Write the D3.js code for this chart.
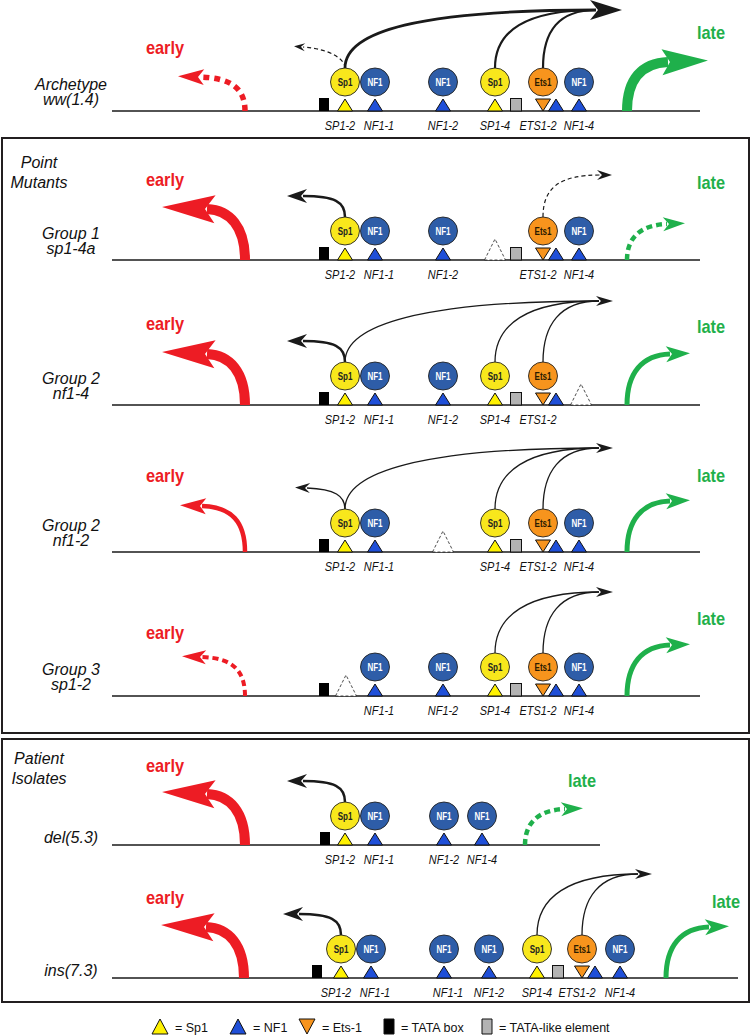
<!DOCTYPE html>
<html><head><meta charset="utf-8">
<script src="https://cdn.jsdelivr.net/npm/d3@7"></script>
<style>body{margin:0;background:#fff} svg{display:block}</style>
</head><body>
<svg id="c" width="751" height="1035"></svg>
<script>
// ---------------- DATA ----------------
const rowNames = [["Archetype","ww(1.4)"],["Group 1","sp1-4a"],["Group 2","nf1-4"],["Group 2","nf1-2"],["Group 3","sp1-2"],["del(5.3)"],["ins(7.3)"]];
const sectionNames = [["Point","Mutants"],["Patient","Isolates"]];
// [type, map position along promoter, site label, bound protein (1/0)]
// T = TATA box, L = TATA-like element, S = Sp1 site, N = NF1 site, E = Ets-1 site, X = mutated site
const archetypeSites = [["T",212],["S",233,"SP1-2",1],["N",263,"NF1-1",1],["N",331,"NF1-2",1],["S",383,"SP1-4",1],["L",404],["E",431,"ETS1-2",1],["N",444],["N",467,"NF1-4",1]];
const sp14aSites    = [["T",212],["S",233,"SP1-2",1],["N",263,"NF1-1",1],["N",331,"NF1-2",1],["X",383],["L",404],["E",431,"ETS1-2",1],["N",444],["N",467,"NF1-4",1]];
const nf14Sites     = [["T",212],["S",233,"SP1-2",1],["N",263,"NF1-1",1],["N",331,"NF1-2",1],["S",383,"SP1-4",1],["L",404],["E",431,"ETS1-2",1],["N",444],["X",469]];
const nf12Sites     = [["T",212],["S",233,"SP1-2",1],["N",263,"NF1-1",1],["X",331],["S",383,"SP1-4",1],["L",404],["E",431,"ETS1-2",1],["N",444],["N",467,"NF1-4",1]];
const sp12Sites     = [["T",212],["X",234],["N",263,"NF1-1",1],["N",331,"NF1-2",1],["S",383,"SP1-4",1],["L",404],["E",431,"ETS1-2",1],["N",444],["N",467,"NF1-4",1]];
const del53Sites    = [["T",213],["S",233,"SP1-2",1],["N",263,"NF1-1",1],["N",332,"NF1-2",1],["N",370,"NF1-4",1]];
const ins73Sites    = [["T",205],["S",229,"SP1-2",1],["N",259,"NF1-1",1],["N",332,"NF1-1",1],["N",377,"NF1-2",1],["S",425,"SP1-4",1],["L",446],["E",470,"ETS1-2",1],["N",483],["N",508,"NF1-4",1]];
const rowSites = [archetypeSites, sp14aSites, nf14Sites, nf12Sites, sp12Sites, del53Sites, ins73Sites];
const rowLength = [588,588,588,588,588,488,626];
// early / late promoter activity
const earlyStart = [133,133,133,133,133,133,132];
const earlyArrow = ["dashed","heavy","heavy","light","dashedLight","heavy","heavy"];
const lateStart  = [515,515,515,515,515,413,554];
const lateArrow  = ["heavy","dashedLight","medium","medium","medium","dashedLight","medium"];
// transcription-factor effects
const sp1EarlyLink   = ["dashed","medium","medium","light","none","medium","medium"];
const lateActivators = [["SP1-2","SP1-4","ETS1-2"],["ETS1-2"],["SP1-2","SP1-4","ETS1-2"],["SP1-2","SP1-4","ETS1-2"],["SP1-4","ETS1-2"],[],["SP1-4","ETS1-2"]];
const lateLinkStyle  = ["heavy","dashed","light","light","light","none","light"];
// legend
const legendTypes  = ["S","N","E","T","L"];
const legendLabels = ["= Sp1","= NF1","= Ets-1","= TATA box","= TATA-like element"];

// ---------------- LAYOUT ----------------
const svg = d3.select("#c");
const x = d3.scaleLinear().domain([0,588]).range([112,700]);
const baselines = [111,260,405,552,696,845,978];
const earlyLabelOff = [57,74,75,70,57,73,74];
const lateLabelOff  = [72,71,72,70,71,58,70];
const lateLabelX = [711,711,711,711,711,582,726];
const labelDx = {"SP1-2":-5, "NF1-1":4, "ETS1-2":-5};
const RED="#ed1c24", GREEN="#1fb04b", INK="#1a1a1a";
const FONT="'Liberation Sans', Arial, sans-serif";
const fillOf = {S:"#fff200", N:"#1f4fd8", E:"#f7941d"};
const circFill = {S:"#f8e71c", N:"#2e5da8", E:"#f7941d"};
const circText = {S:"Sp1", N:"NF1", E:"Ets1"};
const circTextFill = {S:"#222", N:"#fff", E:"#2a1a00"};

function condense(sel, f){
  sel.each(function(){
    const w = this.getComputedTextLength();
    if(w>0){ this.setAttribute("textLength",(w*f).toFixed(1)); this.setAttribute("lengthAdjust","spacingAndGlyphs"); }
  });
  return sel;
}

// boxes
svg.append("rect").attr("x",2).attr("y",138).attr("width",747).attr("height",595)
  .attr("fill","none").attr("stroke","#231f20").attr("stroke-width",2);
svg.append("rect").attr("x",2).attr("y",739).attr("width",747).attr("height",263)
  .attr("fill","none").attr("stroke","#231f20").attr("stroke-width",2);
[[168,188],[764,784]].forEach((ys,i)=>{
  sectionNames[i].forEach((t,j)=>svg.append("text").attr("x",39).attr("y",ys[j]).attr("text-anchor","middle")
    .attr("font-family",FONT).attr("font-style","italic").attr("font-size",16).attr("fill","#111").text(t));
});

function head(g,c2,p3,o){
  let dx=p3[0]-c2[0], dy=p3[1]-c2[1]; const n=Math.hypot(dx,dy); dx/=n; dy/=n;
  const px=-dy, py=dx;
  const tip=[p3[0]+dx*o.L, p3[1]+dy*o.L];
  const a=[p3[0]-dx*o.barb+px*o.H, p3[1]-dy*o.barb+py*o.H];
  const b=[p3[0]-dx*o.barb-px*o.H, p3[1]-dy*o.barb-py*o.H];
  const nt=[p3[0]+dx*2, p3[1]+dy*2];
  g.append("path").attr("d",`M${tip}L${a}L${nt}L${b}Z`).attr("fill",o.color);
}
function shaft(g,pts,o){
  const [p0,c1,c2,p3]=pts;
  g.append("path").attr("d",`M${p0}C${c1} ${c2} ${p3}`)
   .attr("fill","none").attr("stroke",o.color).attr("stroke-width",o.w)
   .attr("stroke-dasharray",o.dash||null);
}
function arrow(g,pts,o){ shaft(g,pts,o); head(g,pts[2],pts[3],o); }

const earlySpec = {
  heavy:{d:[[0,0],[0,-33],[-15,-50],[-38,-51]], w:10, L:45, H:14, barb:8},
  light:{d:[[0,0],[0,-30],[-13,-45],[-43,-46]], w:4.5, L:22, H:8, barb:4},
  dashed:{d:[[0,0],[0,-22],[-13,-33],[-45,-34]], w:5.5, dash:"6,5", L:22, H:8, barb:4},
  dashedLight:{d:[[0,0],[0,-26],[-13,-38],[-43,-39]], w:4, dash:"6,4", L:20, H:7, barb:4}
};
const lateSpec = {
  heavy:{d:[[0,0],[0,-32],[15,-48],[41,-49]], w:10, L:40, H:13, barb:6},
  medium:{d:[[0,0],[0,-32],[15,-50],[43,-51]], w:5, L:20, H:8, barb:4},
  dashedLight:{d:[[0,0],[0,-22],[13,-35],[40,-36]], w:4.5, dash:"6,4", L:18, H:7, barb:4}
};
const sp1Spec = {
  medium:{d:[[0,-43],[0,-58],[-10,-64],[-42,-64]], w:2.5, L:16, H:7, barb:4},
  light:{d:[[0,-43],[0,-56],[-10,-63],[-38,-64]], w:1.4, L:12, H:5, barb:3},
  dashed:{d:[[0,-43],[0,-52],[-15,-62],[-42,-64]], w:1.2, dash:"4,3", L:9, H:4, barb:2}
};
const off=(d,bx,b)=>d.map(p=>[bx+p[0], b+p[1]]);

rowSites.forEach((sites,r)=>{
  const b = baselines[r];
  const g = svg.append("g");
  // row name
  const nm = rowNames[r];
  const ys = nm.length===2 ? [b-21,b-6] : [b-2];
  nm.forEach((t,j)=>g.append("text").attr("x",71).attr("y",ys[j]).attr("text-anchor","middle").attr("font-family",FONT)
     .attr("font-style","italic").attr("font-size",16).attr("fill","#111").text(t));
  // DNA line
  g.append("line").attr("x1",x(0)).attr("x2",x(rowLength[r])).attr("y1",b).attr("y2",b)
   .attr("stroke",INK).attr("stroke-width",1.7);
  // early arrow
  const es = earlySpec[earlyArrow[r]];
  arrow(g, off(es.d, x(earlyStart[r]), b), Object.assign({color:RED}, es));
  condense(g.append("text").attr("x",165).attr("y",b-earlyLabelOff[r]).attr("text-anchor","middle")
   .attr("font-family",FONT).attr("font-weight","bold").attr("font-size",19).attr("fill",RED).text("early"),0.86);
  // late arrow
  const ls = lateSpec[lateArrow[r]];
  arrow(g, off(ls.d, x(lateStart[r]), b), Object.assign({color:GREEN}, ls));
  condense(g.append("text").attr("x",lateLabelX[r]).attr("y",b-lateLabelOff[r]).attr("text-anchor","middle")
   .attr("font-family",FONT).attr("font-weight","bold").attr("font-size",19).attr("fill",GREEN).text("late"),0.86);
  // Sp1 -> early link
  const sp1 = sites.find(s=>s[2]==="SP1-2");
  if(sp1 && sp1EarlyLink[r]!=="none"){
    const ss = sp1Spec[sp1EarlyLink[r]];
    arrow(g, off(ss.d, x(sp1[1]), b), Object.assign({color:INK}, ss));
  }
  // activators -> late link
  const acts = lateActivators[r];
  if(acts.length){
    const ets = sites.find(s=>s[2]==="ETS1-2");
    const st = lateLinkStyle[r];
    let o, ty, tipX;
    if(st==="heavy"){ o={color:INK,w:2.2,L:26,H:10,barb:6}; ty=b-101; tipX=x(ets[1])+79; }
    else if(st==="dashed"){ o={color:INK,w:1.2,dash:"4,3",L:12,H:5,barb:3}; ty=b-85; tipX=x(ets[1])+69; }
    else { o={color:INK,w:1.3,L:14,H:5,barb:3}; ty=b-104; tipX=x(ets[1])+70; }
    const p3=[tipX-o.L, ty];
    let first=null;
    acts.forEach((lab,k)=>{
      const sx = x(sites.find(s=>s[2]===lab)[1]);
      let pts;
      if(st==="dashed") pts=[[sx,b-43],[sx,b-72],[sx+16,ty],p3];
      else pts=[[sx,b-43],[sx,b-80],[sx+(p3[0]-sx)*0.3,ty],p3];
      const w = (st==="heavy" && k===0) ? 2.8 : o.w;
      shaft(g,pts,Object.assign({},o,{w}));
      if(!first) first=pts;
    });
    head(g, first[2], first[3], o);
  }
  // sites
  sites.forEach(s=>{
    const [t,pos,lab,bound]=s; const sx=x(pos);
    if(t==="T"){
      g.append("rect").attr("x",sx-5).attr("y",b-13).attr("width",10).attr("height",13).attr("fill","#000");
    } else if(t==="L"){
      g.append("rect").attr("x",sx-5.5).attr("y",b-12.5).attr("width",11).attr("height",12.5)
       .attr("fill","#b3b3b3").attr("stroke","#111").attr("stroke-width",1);
    } else if(t==="X"){
      g.append("path").attr("d",`M${sx-10.5},${b}L${sx},${b-21}L${sx+10.5},${b}Z`).attr("fill","#fff")
       .attr("stroke","#222").attr("stroke-width",0.8).attr("stroke-dasharray","3,2");
    } else {
      const d = t==="E" ? `M${sx-7.5},${b-12}L${sx+7.5},${b-12}L${sx},${b}Z` : `M${sx-7.5},${b}L${sx},${b-12}L${sx+7.5},${b}Z`;
      g.append("path").attr("d",d).attr("fill",fillOf[t]).attr("stroke","#111").attr("stroke-width",1);
      if(bound){
        g.append("ellipse").attr("cx",sx).attr("cy",b-29).attr("rx",14.5).attr("ry",14)
         .attr("fill",circFill[t]).attr("stroke","#222").attr("stroke-width",0.9);
        condense(g.append("text").attr("x",sx).attr("y",b-25.5).attr("text-anchor","middle").attr("font-family",FONT)
         .attr("font-weight","bold").attr("font-size",10).attr("fill",circTextFill[t]).text(circText[t]),0.8);
      }
    }
    if(lab){
      condense(g.append("text").attr("x",sx+(labelDx[lab]||0)).attr("y",b+19).attr("text-anchor","middle").attr("font-family",FONT)
       .attr("font-style","italic").attr("font-size",13).attr("fill","#111").text(lab),0.84);
    }
  });
});

// legend
const legX = [160,238,307,389,487];
const ly = 1034;
legendTypes.forEach((t,i)=>{
  const cx = legX[i];
  let d;
  if(t==="S"||t==="N") d=`M${cx-8},${ly}L${cx},${ly-15}L${cx+8},${ly}Z`;
  else if(t==="E") d=`M${cx-8},${ly-15}L${cx+8},${ly-15}L${cx},${ly}Z`;
  else d=`M${cx-5},${ly-15}H${cx+5}V${ly}H${cx-5}Z`;
  const fill = t==="T" ? "#000" : t==="L" ? "#b3b3b3" : fillOf[t];
  svg.append("path").attr("d",d).attr("fill",fill).attr("stroke","#111").attr("stroke-width",1);
  svg.append("text").attr("x",cx+(t==="T"||t==="L"?12:15)).attr("y",ly-2).attr("font-family",FONT)
   .attr("font-size",12.5).attr("fill","#111").text(legendLabels[i]);
});
</script>
</body></html>
